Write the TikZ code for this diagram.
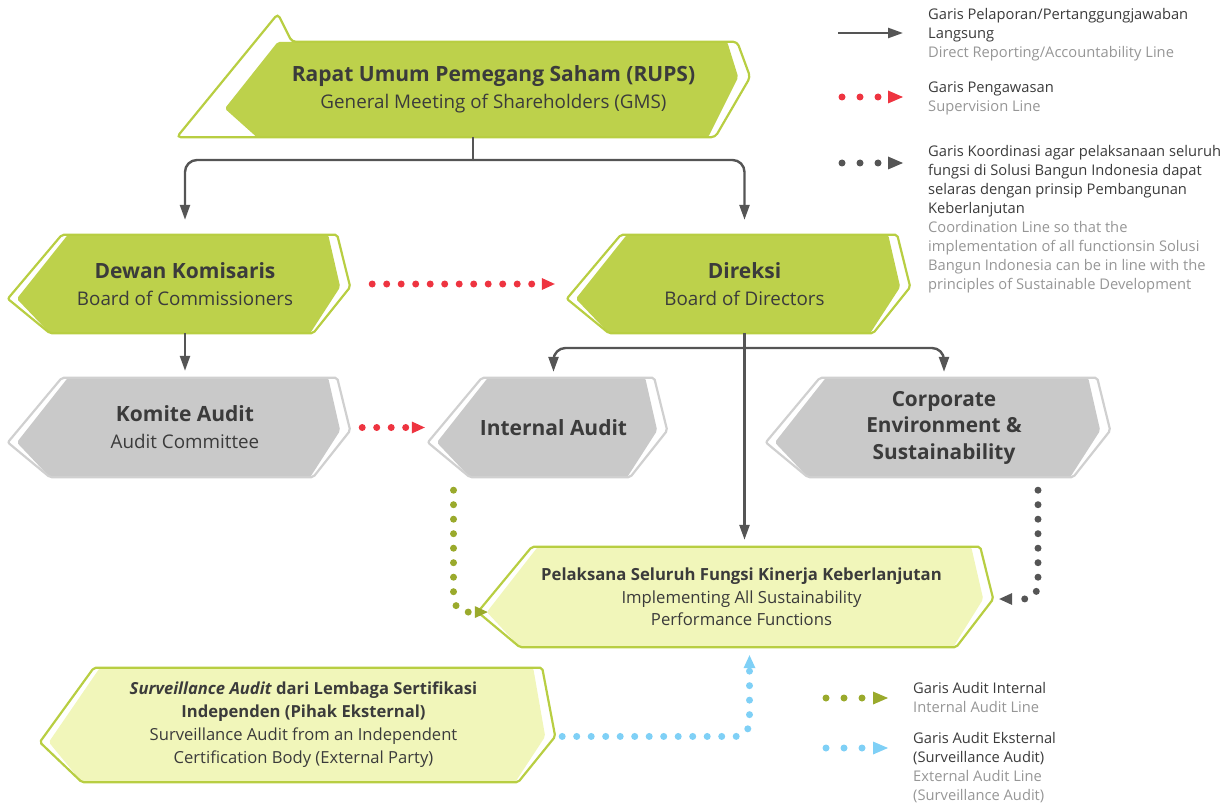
\documentclass[tikz,border=0pt]{standalone}
\usepackage{fontspec}
\setmainfont{Open Sans}
\usetikzlibrary{arrows.meta,calc,backgrounds}

\newlength{\du}
\setlength{\du}{1pt}

\definecolor{boxgreen}{HTML}{BDD14B}
\definecolor{boxgreenline}{HTML}{B8CE42}
\definecolor{boxgray}{HTML}{C9C9C9}
\definecolor{boxgrayline}{HTML}{D0D0D0}
\definecolor{boxpale}{HTML}{F1F6BA}
\definecolor{txtdark}{HTML}{3B3B3B}
\definecolor{txtgray}{HTML}{969696}
\definecolor{linegray}{HTML}{555555}
\definecolor{supred}{HTML}{EE3440}
\definecolor{intolive}{HTML}{9AAA2C}
\definecolor{extblue}{HTML}{7FD0F6}

\tikzset{
  orgbox/.style={align=center, inner sep=0pt, text=txtdark, font=\fontsize{18.8}{27}\selectfont},
  legtext/.style={anchor=north west, align=left, inner sep=0pt, text=txtdark, font=\fontsize{14.7}{19}\selectfont},
  repline/.style={draw=linegray, line width=2.4\du, rounded corners=12\du, -{Triangle[length=15pt,width=10pt]}},
  dotline/.style={line width=7\du, line cap=round, dash pattern=on 0pt off 14.5\du, rounded corners=14\du, -{Triangle[length=13pt,width=12pt,line width=0pt]}},
  legdots/.style={dash pattern=on 0pt off 18\du, -{Triangle[length=15pt,width=13pt,line width=0pt]}},
  supline/.style={dotline, draw=supred},
  coordline/.style={dotline, draw=linegray},
  intline/.style={dotline, draw=intolive},
  extline/.style={dotline, draw=extblue}
}

% box title line
\newcommand{\boxtitle}[1]{{\fontsize{21}{27}\selectfont\bfseries #1}}

% hexagon behind a box node: #1 node, #2 fill, #3 outline, #4 right tip
\newcommand{\orgshape}[4]{%
  \coordinate (#1-lt) at ($(#1.north west)!0.65!(#1.south west)+(-12\du,0)$);
  \coordinate (#1-rt) at ($(#1.north east)!#4!(#1.south east)$);
  \fill[#2, rounded corners=2\du] ($(#1.north west)+(48\du,0)$) -- ($(#1.north east)+(-22\du,0)$) -- ($(#1-rt)+(-10\du,0)$) -- ($(#1.south east)+(-40\du,0)$) -- ($(#1.south west)+(30\du,0)$) -- ($(#1-lt)+(9\du,0)$) -- cycle;
  \draw[#3, line width=2.2\du, rounded corners=2\du] ($(#1.north west)+(42\du,0)$) -- ($(#1.north east)+(-13\du,0)$) -- (#1-rt) -- ($(#1.south east)+(-37\du,0)$) -- ($(#1.south west)+(30\du,0)$) -- (#1-lt) -- cycle;
}

\begin{document}
\begin{tikzpicture}
\pgftransformyscale{-1.000000}
\useasboundingbox (0,0) rectangle (1225\du,805\du);

% boxes
\node[orgbox, minimum width=513\du, minimum height=95\du] (rups) at (493.5\du,89.5\du) {\boxtitle{Rapat Umum Pemegang Saham (RUPS)}\\General Meeting of Shareholders (GMS)};
\node[orgbox, minimum width=330\du, minimum height=98\du] (dk) at (185\du,284\du) {\boxtitle{Dewan Komisaris}\\Board of Commissioners};
\node[orgbox, minimum width=331\du, minimum height=98\du] (dir) at (744.5\du,284\du) {\boxtitle{Direksi}\\Board of Directors};
\node[orgbox, minimum width=330\du, minimum height=99\du] (ka) at (185\du,427.5\du) {\boxtitle{Komite Audit}\\Audit Committee};
\node[orgbox, minimum width=227\du, minimum height=99\du] (ia) at (553.5\du,427.5\du) {\boxtitle{Internal Audit}};
\node[orgbox, minimum width=332\du, minimum height=99\du, font=\fontsize{20.8}{26.5}\selectfont\bfseries] (ces) at (944\du,427.5\du) {Corporate\\Environment \&\\Sustainability};
\node[orgbox, minimum width=503\du, minimum height=100\du, font=\fontsize{16.7}{22.5}\selectfont] (pel) at (741.5\du,597\du) {\textbf{Pelaksana Seluruh Fungsi Kinerja Keberlanjutan}\\Implementing All Sustainability\\Performance Functions};
\node[orgbox, minimum width=503\du, minimum height=114\du, font=\fontsize{16.6}{23}\selectfont] (sur) at (303.5\du,725\du) {\textbf{\textit{Surveillance Audit} dari Lembaga Sertifikasi}\\\textbf{Independen (Pihak Eksternal)}\\Surveillance Audit from an Independent\\Certification Body (External Party)};

\begin{pgfonlayer}{background}
% RUPS shape
\coordinate (rups-rt) at ($(rups.north east)!0.37!(rups.south east)$);
\coordinate (rups-lt) at ($(rups.north west)!0.7!(rups.south west)+(-12\du,0)$);
\fill[boxgreen, rounded corners=2\du] ($(rups.north west)+(41\du,0)$) -- ($(rups.north east)+(-23\du,0)$) -- ($(rups-rt)+(-12\du,0)$) -- ($(rups.south east)+(-42\du,0)$) -- ($(rups.south west)+(20\du,0)$) -- (rups-lt) -- cycle;
\draw[boxgreenline, line width=2.2\du, rounded corners=4\du] ($(rups.south west)+(-60\du,0)$) -- ($(rups.north west)+(41\du,-28\du)$) -- ($(rups.north west)+(55\du,0)$) -- ($(rups.north east)+(-13\du,0)$) -- (rups-rt) -- ($(rups.south east)+(-35\du,0)$) -- cycle;
\orgshape{dk}{boxgreen}{boxgreenline}{0.53}
\orgshape{dir}{boxgreen}{boxgreenline}{0.53}
\orgshape{ka}{boxgray}{boxgrayline}{0.53}
\orgshape{ia}{boxgray}{boxgrayline}{0.53}
\orgshape{ces}{boxgray}{boxgrayline}{0.53}
\orgshape{pel}{boxpale}{boxgreenline}{0.52}
\orgshape{sur}{boxpale}{boxgreenline}{0.6}
\end{pgfonlayer}

% reporting lines
\coordinate (fork) at (473\du,160\du);
\coordinate (branch) at (750\du,348\du);
\draw[repline, -] (rups.south -| fork) -- (fork);
\draw[repline, shorten >=15\du] (fork) -| (dk.north);
\draw[repline, shorten >=15\du] (fork) -| (dir.north);
\draw[repline, shorten >=7\du] (dk.south) -- (ka.north);
\draw[repline, shorten >=7\du] (dir.south) -- (dir.south |- pel.north);
\draw[repline, shorten >=6\du] (dir.south |- branch) -| (ia.north);
\draw[repline, shorten >=6\du] (dir.south |- branch) -| (ces.north);

% supervision, audit and coordination lines
\draw[supline, shorten <=22\du, shorten >=24\du] (dk.east) -- (dir.west);
\draw[supline, shorten <=12\du, shorten >=15\du] (ka.east) -- (ia.west);
\draw[intline, shorten <=13\du, shorten >=-10\du] ([xshift=-100\du]ia.south) |- (pel-lt);
\draw[coordline, shorten <=13\du, shorten >=6\du] ([xshift=94\du]ces.south) |- (pel-rt);
\draw[extline, shorten <=7\du, shorten >=8\du] (sur-rt) -| ([xshift=8\du]pel.south);

% legend
\draw[repline] (838\du,33\du) -- (903\du,33\du);
\draw[supline, legdots] (842\du,97\du) -- (903\du,97\du);
\draw[coordline, legdots] (842\du,163\du) -- (903\du,163\du);
\draw[intline, legdots] (826\du,698\du) -- (888\du,698\du);
\draw[extline, legdots] (826\du,748\du) -- (888\du,748\du);
\node[legtext] (leg1) at (928\du,8\du) {Garis Pelaporan/Pertanggungjawaban\\Langsung\\\textcolor{txtgray}{Direct Reporting/Accountability Line}};
\node[legtext] (leg2) at (928\du,82\du) {Garis Pengawasan\\\textcolor{txtgray}{Supervision Line}};
\node[legtext] (leg3) at (928\du,145\du) {Garis Koordinasi agar pelaksanaan seluruh\\fungsi di Solusi Bangun Indonesia dapat\\selaras dengan prinsip Pembangunan\\Keberlanjutan\\\textcolor{txtgray}{Coordination Line so that the}\\\textcolor{txtgray}{implementation of all functionsin Solusi}\\\textcolor{txtgray}{Bangun Indonesia can be in line with the}\\\textcolor{txtgray}{principles of Sustainable Development}};
\node[legtext] (leg4) at (913\du,682\du) {Garis Audit Internal\\\textcolor{txtgray}{Internal Audit Line}};
\node[legtext] (leg5) at (913\du,732\du) {Garis Audit Eksternal\\(Surveillance Audit)\\\textcolor{txtgray}{External Audit Line}\\\textcolor{txtgray}{(Surveillance Audit)}};
\end{tikzpicture}
\end{document}
